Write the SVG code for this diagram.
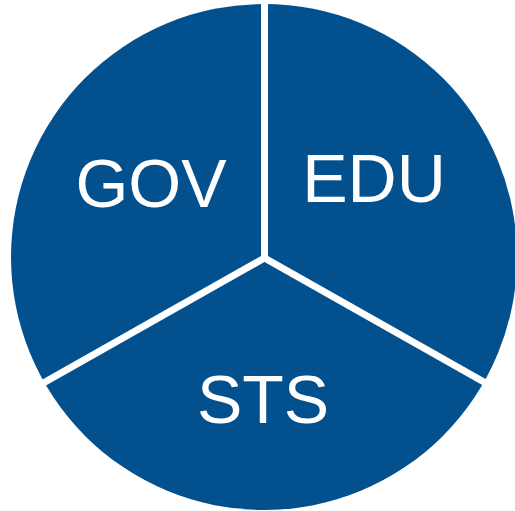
<svg xmlns="http://www.w3.org/2000/svg" width="515" height="511" viewBox="0 0 515 511">
<style>
.sector{fill:#03508f}
.divider{stroke:#ffffff;stroke-width:7;fill:none}
.label{font-family:"Liberation Sans",Arial,sans-serif;font-size:68px;fill:#ffffff;text-anchor:middle}
</style>
<rect width="515" height="511" fill="#ffffff"/>
<g id="circle">
<circle class="sector" cx="264" cy="257" r="253"/>
</g>
<g id="connectors">
<line class="divider" x1="264.5" y1="258" x2="264.5" y2="0"/>
<line class="divider" x1="264.5" y1="258" x2="38" y2="386"/>
<line class="divider" x1="264.5" y1="258" x2="491" y2="386"/>
</g>
<g id="gov"><text class="label" x="151" y="207">GOV</text></g>
<g id="edu"><text class="label" x="374" y="202">EDU</text></g>
<g id="sts"><text class="label" x="263" y="423">STS</text></g>
</svg>
